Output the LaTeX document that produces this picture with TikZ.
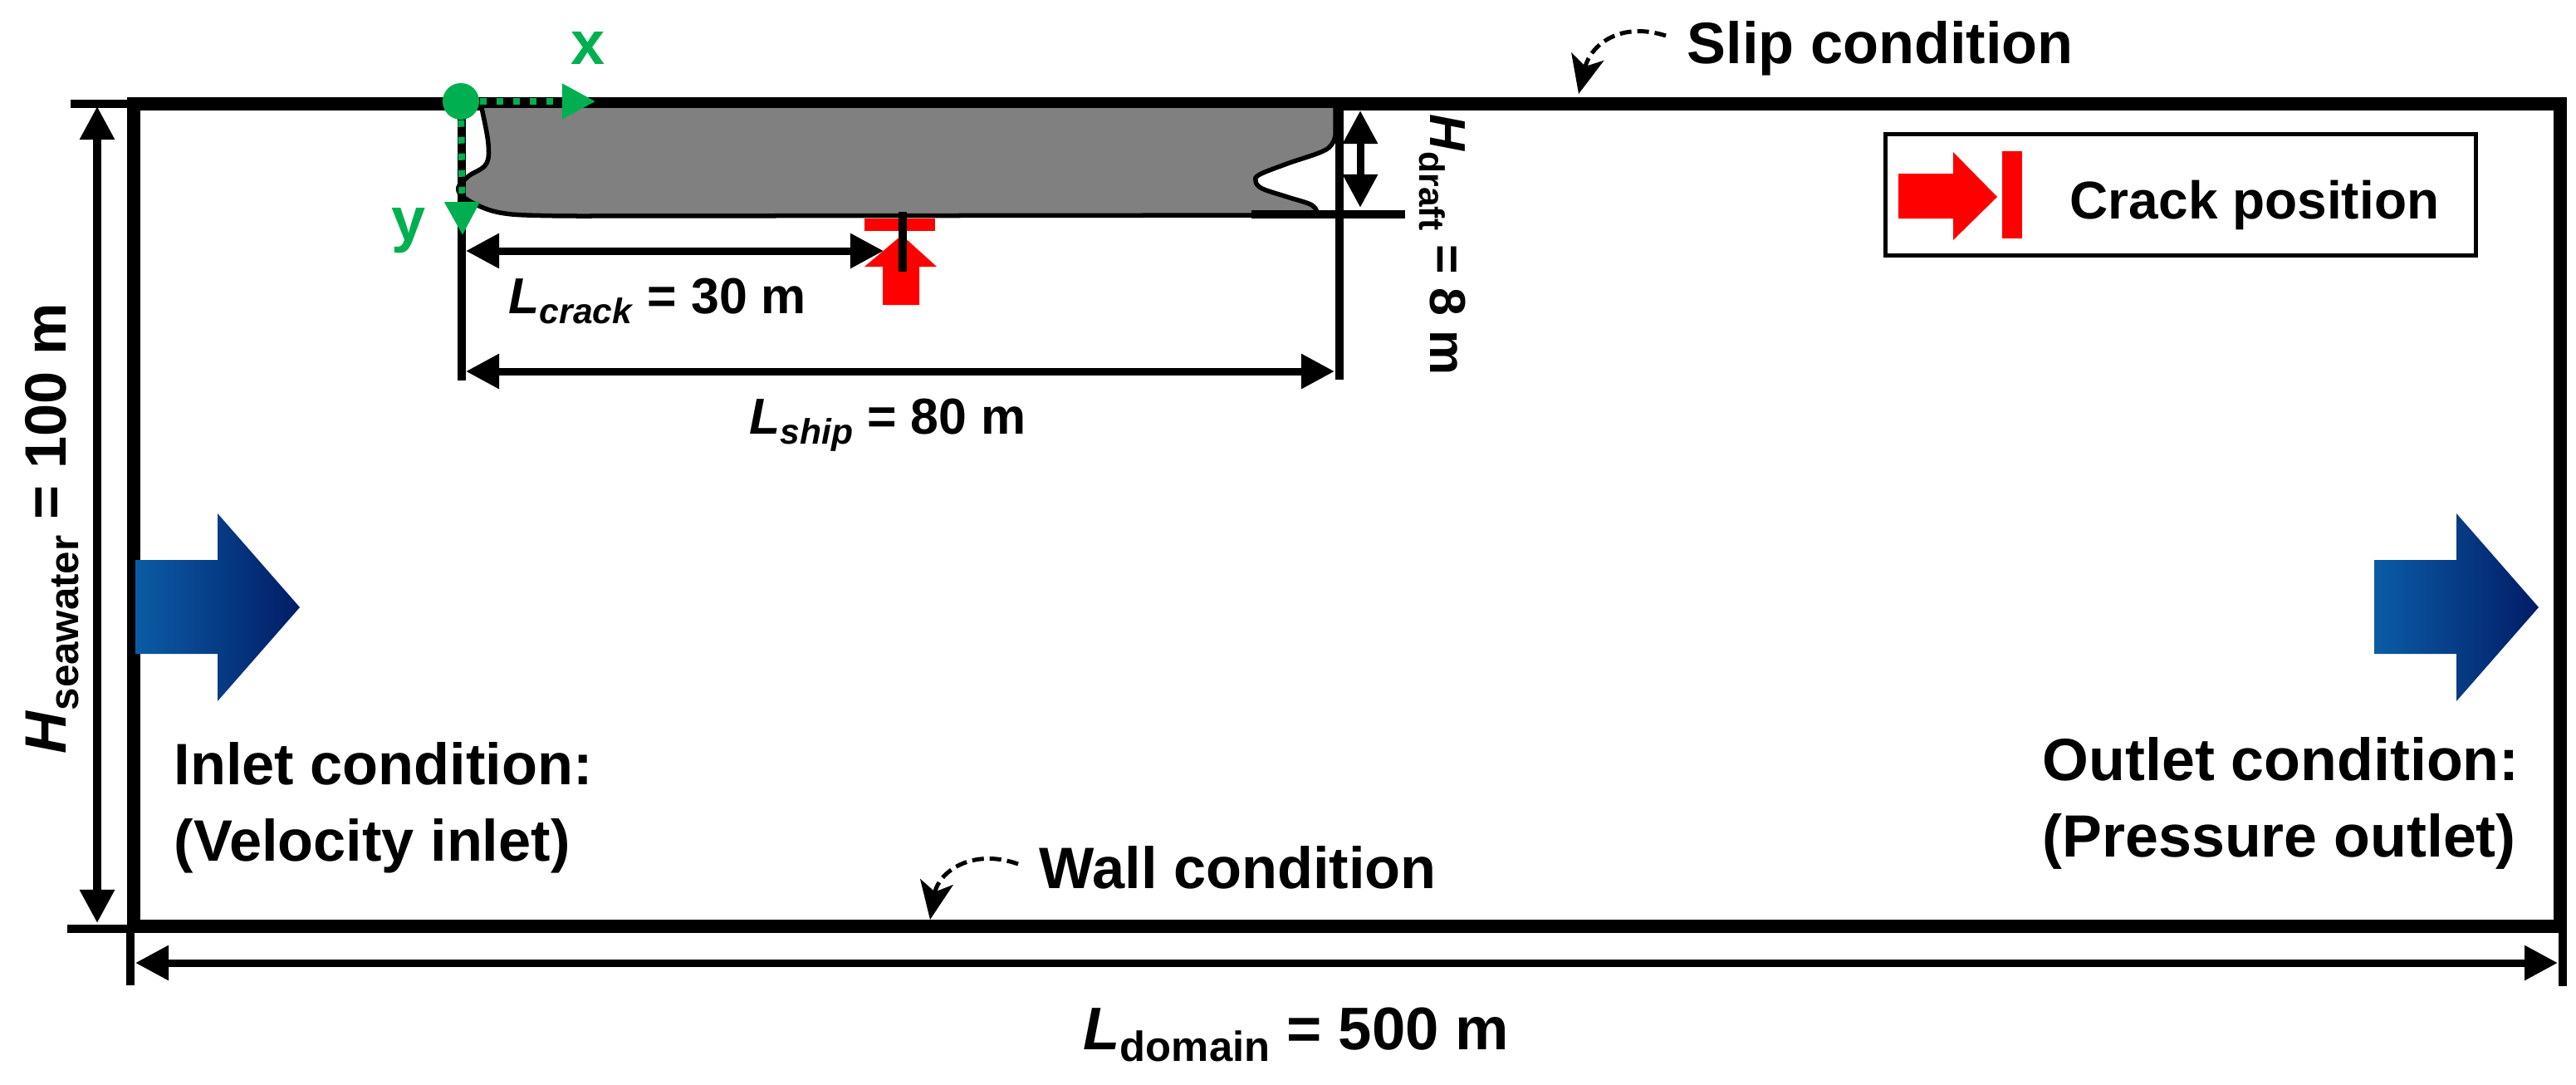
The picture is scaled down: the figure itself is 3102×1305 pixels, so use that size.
\documentclass[tikz,border=0pt]{standalone}
\usepackage{fontspec}
\setmainfont{Liberation Sans}
\usetikzlibrary{arrows.meta,positioning,calc}
\definecolor{axisgreen}{RGB}{0,176,80}
\definecolor{hullgray}{RGB}{128,128,128}
\definecolor{flowdark}{RGB}{2,28,102}
\definecolor{flowlight}{RGB}{11,92,165}
\newcommand{\subtxt}[1]{\raisebox{-0.2em}{\scalebox{0.7}{#1}}}

\begin{document}
\begin{tikzpicture}[x=0.01cm,y=-0.01cm,
    frameline/.style={line width=0.16cm},
    tickline/.style={line width=0.10cm},
    dimline/.style={line width=0.09cm,{Triangle[length=0.40cm,width=0.40cm]}-{Triangle[length=0.40cm,width=0.40cm]}},
    hull/.style={draw,fill=hullgray,line width=0.055cm},
    redmark/.style={fill=red},
    flowarrow/.style={left color=flowlight,right color=flowdark},
    axisline/.style={axisgreen,line width=0.08cm,dash pattern=on 0.08cm off 0.12cm,-{Triangle[length=0.40cm,width=0.41cm]}},
    pointer/.style={line width=0.05cm,dash pattern=on 0.14cm off 0.07cm,-{Stealth[length=0.46cm,width=0.40cm,inset=0.12cm]}},
    label/.style={inner sep=0,font=\bfseries\fontsize{20pt}{26.2pt}\selectfont},
    dimlabel/.style={inner sep=0,anchor=base west,font=\bfseries\fontsize{17.3pt}{20pt}\selectfont}]
    \useasboundingbox (0,0) rectangle (3102,1305);
    \coordinate (frameNW) at (161,125);
    \coordinate (frameSE) at (3083,1115);
    \draw[frameline] (frameNW) rectangle (frameSE);
    % ship
    \draw[hull] (580,127) -- (1608,127) -- (1608,163) -- plot[smooth,tension=0.6] coordinates {(1608,163) (1597,180) (1550,197) (1517,210) (1512,218) (1520,227) (1550,237) (1580,247) (1587,259)}
        -- (700,260) -- plot[smooth,tension=0.6] coordinates {(700,260) (617,258) (577,248) (552,230) (563,213) (585,198) (588,173) (580,130)} -- cycle;
    % extension lines
    \foreach \name/\xa/\ya/\xb/\yb in {seatop/85/125/153/125,seabot/81/1118/153/1118,shipleft/556/133/556/458,shipright/1613/125/1613/457,
        draftline/1507/258/1692/258,domleft/157/1115/157/1186,domright/3086/1115/3086/1187} {
        \coordinate (\name a) at (\xa,\ya);
        \coordinate (\name b) at (\xb,\yb);
        \draw[tickline] (\name a) -- (\name b);
    }
    % dimension arrows
    \foreach \name/\xa/\ya/\xb/\yb in {sea/117/128/117/1111,dom/163/1159/3080/1159,ship/561/447/1607/447,crack/561/302/1064/302,draft/1638/133/1638/250} {
        \coordinate (\name s) at (\xa,\ya);
        \coordinate (\name e) at (\xb,\yb);
        \draw[dimline] (\name s) -- (\name e);
    }
    % flow arrows
    \foreach \xo in {163,2859} {
        \shade[flowarrow,shift={(\xo,0)}] (0,674) -- (99,674) -- (99,618) -- (198,731) -- (99,844) -- (99,787) -- (0,787) -- cycle;
    }
    % crack marker
    \fill[redmark] (1041,263) rectangle (1126,278);
    \fill[redmark] (1086,283) -- (1128,321) -- (1107,321) -- (1107,367) -- (1063,367) -- (1063,321) -- (1041,321) -- cycle;
    \draw[tickline] (1087,255) -- (1087,327);
    % legend
    \node[draw,line width=0.05cm,minimum width=7.10cm,minimum height=1.45cm,inner sep=0] (legend) at (2626,234.5) {};
    \fill[redmark] (2286,209) -- (2352,209) -- (2352,183) -- (2405,237) -- (2352,289) -- (2352,263) -- (2286,263) -- cycle;
    \fill[redmark] (2411,182) rectangle (2435,287);
    \node[label,anchor=base west,font=\bfseries\fontsize{18.2pt}{20pt}\selectfont] (legendtxt) at (2492,263) {Crack position};
    % axes
    \coordinate (xtip) at (717,122);
    \coordinate (ytip) at (557,283);
    \node[circle,fill=axisgreen,minimum size=0.44cm,inner sep=0] (origin) at (555,122) {};
    \draw[axisline] (origin) -- (xtip);
    \draw[axisline] (origin) -- (ytip);
    \node[inner sep=0,anchor=base,text=axisgreen,font=\bfseries\fontsize{21pt}{24pt}\selectfont] (xlabel) at (708,77) {x};
    \node[inner sep=0,anchor=base,text=axisgreen,font=\bfseries\fontsize{21pt}{24pt}\selectfont] (ylabel) at (492,289) {y};
    % boundary labels
    \node[label,anchor=base west] (sliptxt) at (2031,76) {Slip condition};
    \node[label,anchor=base west] (walltxt) at (1251,1069) {Wall condition};
    \node[label,anchor=north west,align=left] (inlettxt) at (209,893) {Inlet condition:\\(Velocity inlet)};
    \node[label,anchor=north west,align=left,font=\bfseries\fontsize{20.4pt}{26.2pt}\selectfont] (outlettxt) at (2459,887) {Outlet condition:\\(Pressure outlet)};
    \coordinate (slipstart) at (2006,43);
    \coordinate (sliptip) at (1901,113);
    \coordinate (wallstart) at (1226,1040);
    \coordinate (walltip) at (1120,1107);
    \draw[pointer] (slipstart) .. controls (1950,25) and (1915,55) .. (sliptip);
    \draw[pointer] (wallstart) .. controls (1170,1020) and (1130,1050) .. (walltip);
    % dimension labels
    \node[dimlabel] (cracktxt) at (612,377) {\textit{L}\subtxt{\textit{crack}} = 30 m};
    \node[dimlabel] (shiptxt) at (902,522) {\textit{L}\subtxt{\textit{ship}} = 80 m};
    \node[dimlabel,font=\bfseries\fontsize{20.6pt}{24pt}\selectfont] (domtxt) at (1304,1263) {\textit{L}\subtxt{domain} = 500 m};
    \node[dimlabel,rotate=90,font=\bfseries\fontsize{20pt}{24pt}\selectfont] (seatxt) at (80,908) {\textit{H}\subtxt{seawater} = 100 m};
    \node[dimlabel,rotate=-90] (drafttxt) at (1722,137) {\textit{H}\subtxt{draft} = 8 m};
\end{tikzpicture}
\end{document}
